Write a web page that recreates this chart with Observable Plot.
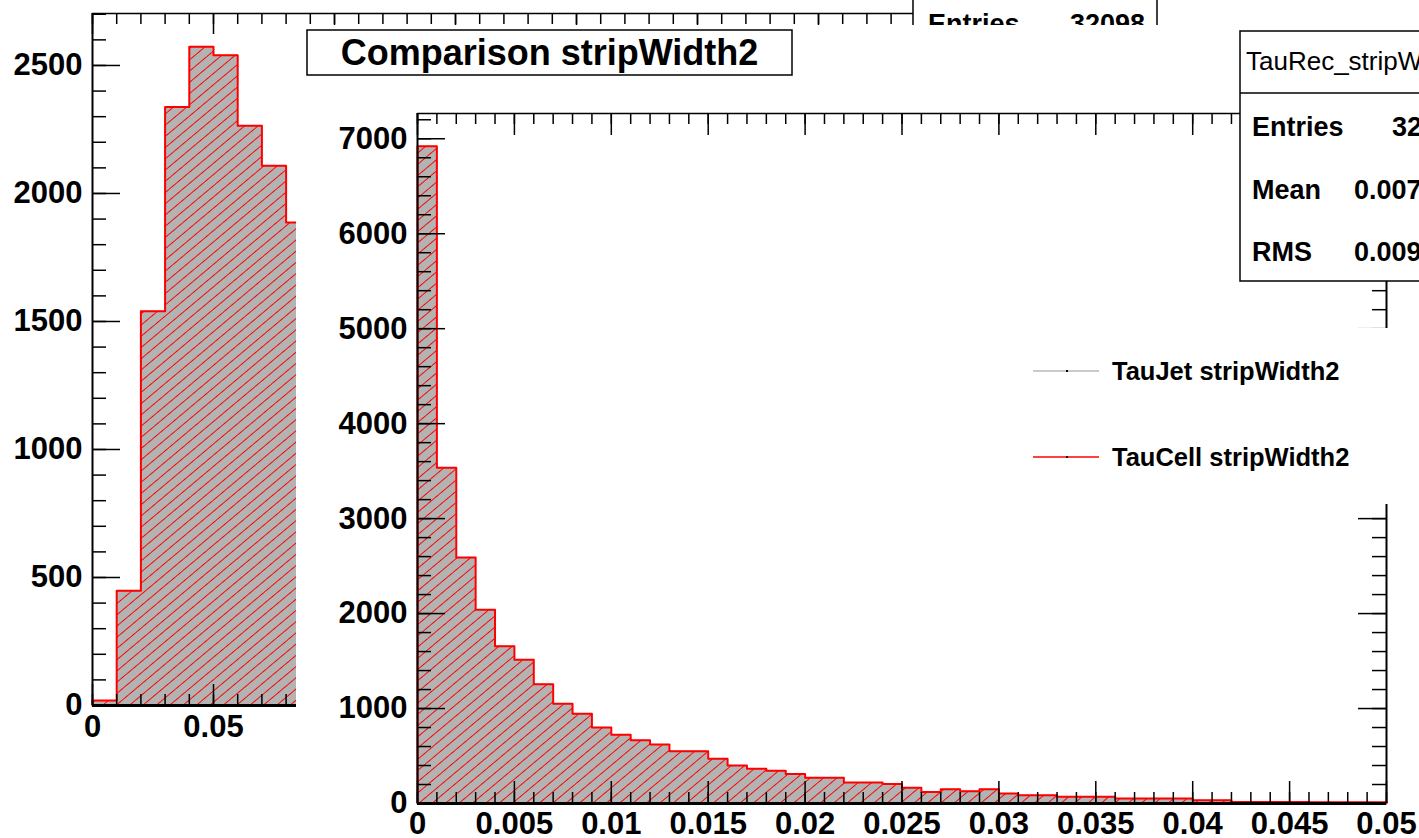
<!DOCTYPE html>
<html><head><meta charset="utf-8">
<script src="https://cdn.jsdelivr.net/npm/d3@7"></script>
<script src="https://cdn.jsdelivr.net/npm/@observablehq/plot@0.6"></script>
<style>
html,body{margin:0;padding:0;background:#fff;}
#wrap{position:relative;width:1419px;height:838px;overflow:hidden;background:#fff;font-family:"Liberation Sans",Arial,Helvetica,sans-serif;}
#wrap > *{position:absolute;display:block;}
</style></head><body><div id="wrap"></div>
<script>
// ---------- data ----------
const titleText = "Comparison stripWidth2";
const legendLabels = ["TauJet stripWidth2", "TauCell stripWidth2"];
const legendColors = ["#b8b8b8", "#ff0000"];

// background (first) histogram, bins of width 0.01 starting at 0
const bgBinWidth = 0.01;
const bgCounts = [20, 448, 1540, 2338, 2573, 2540, 2265, 2108, 1887];
const bgXTicks = [0, 0.05, 0.1, 0.15, 0.2, 0.25, 0.3, 0.35, 0.4];
const bgXLabelTicks = [0, 0.05];
const bgXLabels = ["0", "0.05"];
const bgYTicks = [0, 500, 1000, 1500, 2000, 2500];
const bgYLabels = ["0", "500", "1000", "1500", "2000", "2500"];
const bgStatsNames = ["Entries"];
const bgStatsValues = ["32098"];

// main comparison histogram, bins of width 0.001 from 0 to 0.05
const mainBinWidth = 0.001;
const mainCounts = [6920, 3535, 2590, 2040, 1655, 1515, 1255, 1050, 945, 800,
                    725, 665, 620, 550, 550, 470, 400, 365, 345, 310,
                    270, 270, 220, 220, 205, 165, 122, 150, 129, 150,
                    105, 87, 87, 70, 70, 70, 52, 52, 52, 52,
                    35, 35, 17, 16, 15, 15, 14, 13, 13, 12];
const mainXTicks = [0, 0.005, 0.01, 0.015, 0.02, 0.025, 0.03, 0.035, 0.04, 0.045, 0.05];
const mainXLabels = ["0", "0.005", "0.01", "0.015", "0.02", "0.025", "0.03", "0.035", "0.04", "0.045", "0.05"];
const mainYTicks = [0, 1000, 2000, 3000, 4000, 5000, 6000, 7000];
const mainYLabels = ["0", "1000", "2000", "3000", "4000", "5000", "6000", "7000"];
const statsHeader = "TauRec_stripWidth2";
const statsNames = ["Entries", "Mean", "RMS"];
const statsValues = ["32098", "0.007", "0.009"];

const FONT = '"Liberation Sans", Arial, Helvetica, sans-serif';
const wrap = document.getElementById("wrap");

function histPlot(o) {
  const bins = o.counts.map((c, i) => ({x1: i * o.bw, x2: (i + 1) * o.bw, c}));
  const last = bins[bins.length - 1];
  const outline = [{x: 0, y: 0}, ...bins.map(b => ({x: b.x1, y: b.c})), {x: last.x2, y: last.c}, {x: last.x2, y: 0}];
  const fw = o.width - o.ml - o.mr, fh = o.height - o.mt - o.mb;
  const xMinor = d3.range(0, Math.round((o.xDomain[1] - o.xDomain[0]) / o.xMinorStep) + 1).map(i => o.xDomain[0] + i * o.xMinorStep);
  const yMinor = d3.range(0, Math.floor(o.yDomain[1] / o.yMinorStep) + 1).map(i => i * o.yMinorStep);
  const xt = o.xLabelTicks.map((v, i) => ({v, label: o.xLabels[i]}));
  const yt = o.yTicks.map((v, i) => ({v, label: o.yLabels[i]}));
  const tk = {stroke: "#000", strokeWidth: 1.5};
  const svg = Plot.plot({
    width: o.width, height: o.height,
    marginLeft: o.ml, marginRight: o.mr, marginTop: o.mt, marginBottom: o.mb,
    x: {domain: o.xDomain, axis: null},
    y: {domain: o.yDomain, axis: null},
    style: {background: "#fff", overflow: "visible", fontFamily: FONT},
    marks: [
      Plot.areaY(outline, {x: "x", y: "y", curve: "step-after", fill: "#b3b3b3"}),
      Plot.areaY(outline, {x: "x", y: "y", curve: "step-after", fill: `url(#${o.pid})`}),
      Plot.line(outline, {x: "x", y: "y", curve: "step-after", stroke: "#ff0000", strokeWidth: 2}),
      // x ticks bottom & top
      Plot.tickX(xMinor, {x: d => d, insetTop: fh - o.xMinorLen, ...tk}),
      Plot.tickX(o.xTicks, {x: d => d, insetTop: fh - o.xMajorLen, ...tk}),
      Plot.tickX(xMinor, {x: d => d, insetBottom: fh - o.xMinorLen, ...tk}),
      Plot.tickX(o.xTicks, {x: d => d, insetBottom: fh - o.xMajorLen, ...tk}),
      // y ticks left & right
      Plot.tickY(yMinor, {y: d => d, insetRight: fw - o.yMinorLen, ...tk}),
      Plot.tickY(o.yTicks, {y: d => d, insetRight: fw - o.yMajorLen, ...tk}),
      Plot.tickY(yMinor, {y: d => d, insetLeft: fw - o.yMinorLen, ...tk}),
      Plot.tickY(o.yTicks, {y: d => d, insetLeft: fw - o.yMajorLen, ...tk}),
      // frame
      Plot.ruleX([o.xDomain[0]], {stroke: "#000", strokeWidth: 2}),
      Plot.ruleX([o.xDomain[1]], {stroke: "#000", strokeWidth: 2}),
      Plot.ruleY([o.yDomain[1]], {stroke: "#000", strokeWidth: 1.5}),
      Plot.ruleY([0], {stroke: "#000", strokeWidth: 3}),
      // labels
      Plot.text(xt, {x: "v", text: "label", frameAnchor: "bottom", lineAnchor: "middle", dy: o.xLabelDy, fontSize: 31, fontWeight: "bold", fill: "#000"}),
      Plot.text(yt, {y: "v", text: "label", frameAnchor: "left", lineAnchor: "middle", dx: -10, textAnchor: "end", fontSize: 31, fontWeight: "bold", fill: "#000"})
    ]
  });
  const defs = d3.select(svg).insert("defs", ":first-child");
  const pat = defs.append("pattern").attr("id", o.pid).attr("patternUnits", "userSpaceOnUse")
    .attr("width", 12).attr("height", 8.6).attr("patternTransform", "rotate(-40)");
  pat.append("line").attr("x1", -1).attr("x2", 13).attr("y1", 4.3).attr("y2", 4.3)
    .attr("stroke", "#ff0000").attr("stroke-width", 1);
  svg.style.left = o.left + "px";
  svg.style.top = o.top + "px";
  return svg;
}

// ---------- background panel ----------
const bg = histPlot({
  left: 0, top: 0, width: 1419, height: 838, ml: 92, mr: 359, mt: 13, mb: 133,
  xDomain: [0, 0.4], yDomain: [0, 2703], bw: bgBinWidth, counts: bgCounts,
  xTicks: bgXTicks, xLabelTicks: bgXLabelTicks, xLabels: bgXLabels, yTicks: bgYTicks, yLabels: bgYLabels,
  xMinorStep: 0.01, yMinorStep: 100, xMinorLen: 11, xMajorLen: 21, yMinorLen: 14, yMajorLen: 28,
  xLabelDy: 22, pid: "hatchBg"
});
wrap.appendChild(bg);

// background stats box (cut by the main pad)
const ns = "http://www.w3.org/2000/svg";
const bgStats = d3.select(document.createElementNS(ns, "svg")).attr("width", 1419).attr("height", 838)
  .style("left", "0px").style("top", "0px").style("font-family", FONT);
bgStats.append("rect").attr("x", 913).attr("y", -40).attr("width", 244).attr("height", 80)
  .attr("fill", "#fff").attr("stroke", "#000").attr("stroke-width", 1.5);
bgStatsNames.forEach((n, i) => {
  bgStats.append("text").attr("x", 928).attr("y", 33).attr("font-size", 27).attr("font-weight", "bold").text(n);
  bgStats.append("text").attr("x", 1145).attr("y", 33).attr("text-anchor", "end").attr("font-size", 27).attr("font-weight", "bold").text(bgStatsValues[i]);
});
wrap.appendChild(bgStats.node());

// ---------- main pad ----------
const main = histPlot({
  left: 296, top: 25, width: 1123, height: 813, ml: 121, mr: 33, mt: 88, mb: 35,
  xDomain: [0, 0.05], yDomain: [0, 7266], bw: mainBinWidth, counts: mainCounts,
  xTicks: mainXTicks, xLabelTicks: mainXTicks, xLabels: mainXLabels, yTicks: mainYTicks, yLabels: mainYLabels,
  xMinorStep: 0.001, yMinorStep: 200, xMinorLen: 11, xMajorLen: 22, yMinorLen: 14, yMajorLen: 28,
  xLabelDy: 20.5, pid: "hatchMain"
});
wrap.appendChild(main);

// ---------- overlays: title, stats, legend ----------
const ov = d3.select(document.createElementNS(ns, "svg")).attr("width", 1419).attr("height", 838)
  .style("left", "0px").style("top", "0px").style("font-family", FONT);
// title
ov.append("rect").attr("x", 307).attr("y", 30).attr("width", 485).attr("height", 45)
  .attr("fill", "#fff").attr("stroke", "#000").attr("stroke-width", 1.5);
ov.append("text").attr("x", 549.5).attr("y", 65).attr("text-anchor", "middle")
  .attr("font-size", 36).attr("font-weight", "bold").text(titleText);
// stats box
ov.append("rect").attr("x", 1240).attr("y", 31).attr("width", 300).attr("height", 250)
  .attr("fill", "#fff").attr("stroke", "#000").attr("stroke-width", 1.5);
ov.append("line").attr("x1", 1240).attr("x2", 1540).attr("y1", 93).attr("y2", 93)
  .attr("stroke", "#000").attr("stroke-width", 1.5);
ov.append("text").attr("x", 1246).attr("y", 70).attr("font-size", 26).text(statsHeader);
const statsY = [136, 199, 261];
const valX = [1392, 1354, 1354];
statsNames.forEach((n, i) => {
  ov.append("text").attr("x", 1252).attr("y", statsY[i]).attr("font-size", 27).attr("font-weight", "bold").text(n);
  ov.append("text").attr("x", valX[i]).attr("y", statsY[i]).attr("font-size", 27).attr("font-weight", "bold").text(statsValues[i]);
});
// legend
ov.append("rect").attr("x", 1010).attr("y", 328).attr("width", 409).attr("height", 176).attr("fill", "#fff");
const legY = [371, 457];
legendLabels.forEach((l, i) => {
  ov.append("line").attr("x1", 1033).attr("x2", 1099).attr("y1", legY[i]).attr("y2", legY[i])
    .attr("stroke", legendColors[i]).attr("stroke-width", 1.5);
  ov.append("rect").attr("x", 1066).attr("y", legY[i] - 1).attr("width", 2).attr("height", 2).attr("fill", "#000");
  ov.append("text").attr("x", 1112).attr("y", legY[i] + 9).attr("font-size", 25.5).attr("font-weight", "bold").text(l);
});
wrap.appendChild(ov.node());
</script>
</body></html>
